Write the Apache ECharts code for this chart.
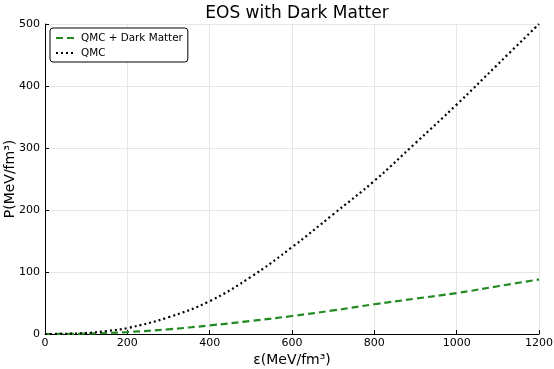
<!DOCTYPE html>
<html>
<head>
<meta charset="utf-8">
<script src="https://cdn.jsdelivr.net/npm/echarts@6/dist/echarts.min.js"></script>
<style>
  html, body { margin: 0; padding: 0; background: #fff; }
  #chart { width: 554px; height: 369px; }
</style>
</head>
<body>
<div id="chart"></div>
<script>
// energy density (MeV/fm^3)
const epsilon = [0, 50, 100, 150, 200, 300, 400, 500, 600, 700, 800, 900, 1000, 1100, 1200]
// pressure, pure QMC
const pQmc = [0, 0.3, 1.6, 4.8, 9.5, 27, 53, 92, 140, 193, 247, 308, 370, 435, 500]
// pressure, QMC + dark matter
const pQmcDm = [0, 0.1, 0.6, 1.6, 3.1, 7.6, 13.8, 21, 29, 38, 48, 57, 66, 77, 88]
const xTicks = [0, 200, 400, 600, 800, 1000, 1200]

const font = 'DejaVu Sans'
const chart = echarts.init(document.getElementById('chart'))

function pairs(ys) {
  return epsilon.map((x, i) => [x, ys[i]])
}

const option = {
  animation: false,
  textStyle: { fontFamily: font },
  title: {
    text: 'EOS with Dark Matter',
    left: 292,
    textAlign: 'center',
    top: 0,
    textStyle: { fontFamily: font, fontSize: 17, fontWeight: 'normal', color: '#000' }
  },
  legend: {
    left: 50,
    top: 28,
    orient: 'vertical',
    itemWidth: 20,
    itemHeight: 10,
    itemGap: 5,
    padding: [5, 5, 4, 5],
    borderColor: '#000',
    borderWidth: 1,
    borderRadius: 3,
    backgroundColor: '#fff',
    itemStyle: { opacity: 0 },
    textStyle: { fontFamily: font, fontSize: 10.4, color: '#000' },
    data: ['QMC + Dark Matter', 'QMC']
  },
  grid: { left: 45, right: 15, top: 24, bottom: 35, containLabel: false, outerBoundsMode: 'none' },
  xAxis: {
    type: 'value',
    min: 0,
    max: 1200,
    interval: 200,
    name: 'ε(MeV/fm³)',
    nameLocation: 'middle',
    nameGap: 19,
    nameMoveOverlap: false,
    nameTextStyle: { fontFamily: font, fontSize: 14, color: '#000' },
    axisLine: { lineStyle: { color: '#000', width: 1 } },
    axisTick: { inside: true, length: 4, lineStyle: { color: '#000' } },
    axisLabel: { fontFamily: font, fontSize: 11, color: '#000', margin: 4,
      formatter: v => xTicks.includes(v) ? String(v) : '' },
    splitLine: { show: true, lineStyle: { color: '#e6e6e6', width: 1 } }
  },
  yAxis: {
    type: 'value',
    min: 0,
    max: 500,
    interval: 100,
    name: 'P(MeV/fm³)',
    nameLocation: 'middle',
    nameGap: 28,
    nameMoveOverlap: false,
    nameTextStyle: { fontFamily: font, fontSize: 14, color: '#000' },
    axisLine: { show: true, lineStyle: { color: '#000', width: 1 } },
    axisTick: { show: true, inside: true, length: 4, lineStyle: { color: '#000' } },
    axisLabel: { fontFamily: font, fontSize: 11, color: '#000', margin: 5 },
    splitLine: { show: true, lineStyle: { color: '#e6e6e6', width: 1 } }
  },
  series: [
    {
      name: 'QMC + Dark Matter',
      type: 'line',
      data: pairs(pQmcDm),
      smooth: 0.4,
      showSymbol: false,
      symbol: 'none',
      color: '#228b22',
      lineStyle: { color: '#228b22', width: 2.2, type: [7, 4] }
    },
    {
      name: 'QMC',
      type: 'line',
      data: pairs(pQmc),
      smooth: 0.4,
      showSymbol: false,
      symbol: 'none',
      color: '#000',
      lineStyle: { color: '#000', width: 2.2, type: [2, 3] }
    }
  ]
}

option && chart.setOption(option)
</script>
</body>
</html>
